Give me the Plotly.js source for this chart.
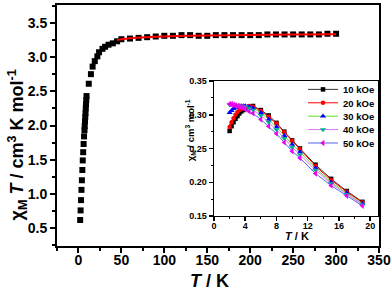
<!DOCTYPE html>
<html>
<head>
<meta charset="utf-8">
<script src="https://cdn.plot.ly/plotly-3.0.1.min.js"></script>
<style>html,body{margin:0;padding:0;background:#fff;}</style>
</head>
<body>
<div id="chart" style="width:392px;height:290px;"></div>
<script>
// Main plot: chi_M T vs T
var mainT = [2,2.5,3,3.5,4,4.5,5,5.5,6,6.5,7,7.3,7.6,7.9,8.2,8.5,8.8,9.1,9.4,12,14.5,16.5,19,22,24,28,31,35,40,45,50,
  60,70,80,90,100,110,120,130,140,150,160,170,180,190,200,210,220,230,240,250,260,270,280,290,300];
var mainChiT = [0.62,0.76,0.91,1.06,1.20,1.35,1.49,1.61,1.73,1.84,1.93,1.99,2.06,2.12,2.18,2.25,2.31,2.37,2.43,2.61,2.75,2.86,2.94,3.01,3.07,3.12,3.15,3.18,3.20,3.23,3.26,
  3.27,3.28,3.29,3.30,3.31,3.31,3.32,3.32,3.31,3.31,3.32,3.32,3.32,3.32,3.32,3.32,3.33,3.33,3.33,3.33,3.33,3.33,3.33,3.34,3.34];
var fitT = [45,50,60,80,100,125,150,200,250,300];
var fitChiT = [3.25,3.26,3.275,3.29,3.30,3.31,3.315,3.322,3.328,3.333];

// Inset: chi_M vs T at several fields
var insetT = [2,2.25,2.5,2.75,3,3.25,3.5,3.75,4,4.5,5,6,7,8,9,10,11,13,15,17,19];
var chi10 = [0.276,0.283,0.289,0.294,0.298,0.302,0.305,0.307,0.309,0.312,0.313,0.307,0.299,0.288,0.275,0.262,0.250,0.226,0.205,0.187,0.171];
var chi20 = [0.282,0.289,0.295,0.300,0.304,0.307,0.309,0.311,0.312,0.313,0.312,0.306,0.297,0.287,0.274,0.261,0.249,0.224,0.203,0.186,0.170];
var chi30 = [0.303,0.306,0.309,0.311,0.312,0.313,0.313,0.313,0.313,0.312,0.310,0.303,0.293,0.282,0.269,0.256,0.245,0.221,0.200,0.184,0.168];
var chi40 = [0.315,0.315,0.315,0.314,0.314,0.313,0.313,0.312,0.312,0.310,0.307,0.299,0.289,0.278,0.265,0.252,0.241,0.218,0.198,0.182,0.167];
var chi50 = [0.316,0.316,0.315,0.314,0.313,0.312,0.311,0.310,0.308,0.305,0.302,0.293,0.283,0.272,0.259,0.246,0.236,0.213,0.195,0.180,0.165];
var fieldLabels = ['10 kOe','20 kOe','30 kOe','40 kOe','50 kOe'];
var insetSeries = [chi10, chi20, chi30, chi40, chi50];
var lineColors = ['#333333','#ff0000','#66dd33','#dd77ee','#5566ee'];
var markerColors = ['#000000','#ff0000','#0000ff','#00b090','#ee00ee'];
var markerSymbols = ['square','circle','triangle-up','triangle-down','triangle-left'];

var FONT = 'Liberation Sans, Arial, sans-serif';
var B = 700;

var traces = [
  {x: mainT, y: mainChiT, type:'scatter', mode:'markers', xaxis:'x', yaxis:'y', showlegend:false,
   marker:{symbol:'square', size:6, color:'#000'}},
  {x: fitT, y: fitChiT, type:'scatter', mode:'lines', xaxis:'x', yaxis:'y', showlegend:false,
   line:{color:'#ff0000', width:2, shape:'spline'}}
];
for (var i=0;i<insetSeries.length;i++){
  traces.push({x: insetT, y: insetSeries[i], type:'scatter', mode:'lines+markers', xaxis:'x2', yaxis:'y2',
    name: fieldLabels[i],
    line:{color: lineColors[i], width:1},
    marker:{symbol: markerSymbols[i], size: (i<2?4.5:5.5), color: markerColors[i]}});
}

var axBase = {showgrid:false, zeroline:false, showline:true, linecolor:'#000', mirror:true,
  ticks:'outside', tickcolor:'#000'};

function ext(a,b){var o={};for(var k in a)o[k]=a[k];for(var k2 in b)o[k2]=b[k2];return o;}

var layout = {
  width:392, height:290,
  margin:{l:57, r:13, t:5, b:44, pad:0},
  paper_bgcolor:'#fff', plot_bgcolor:'#fff',
  font:{family:FONT, color:'#000', weight:B},
  xaxis: ext(axBase, {range:[-25,350], domain:[0,1], anchor:'y', tick0:0, dtick:50, ticklen:5, tickwidth:2, linewidth:2,
    ticklabelstandoff:-5,
    tickfont:{family:FONT, size:14, weight:B, color:'#000'},
    minor:{ticks:'outside', dtick:25, tick0:0, ticklen:3, tickwidth:2, tickcolor:'#000'}}),
  yaxis: ext(axBase, {range:[0.24,3.76], domain:[0,1], anchor:'x', tick0:0.5, dtick:0.5, tickformat:'.1f', ticklen:5, tickwidth:2, linewidth:2,
    tickfont:{family:FONT, size:14, weight:B, color:'#000'},
    minor:{ticks:'outside', dtick:0.25, tick0:0.5, ticklen:3, tickwidth:2, tickcolor:'#000'}}),
  xaxis2: ext(axBase, {range:[0,21], domain:[0.4876,0.9969], anchor:'y2', tick0:0, dtick:4, ticklen:4, tickwidth:1.5, linewidth:1.5,
    ticklabelstandoff:-3,
    tickfont:{family:FONT, size:9, weight:B, color:'#000'},
    minor:{ticks:'outside', dtick:2, tick0:0, ticklen:2, tickwidth:1, tickcolor:'#000'}}),
  yaxis2: ext(axBase, {range:[0.15,0.35], domain:[0.1245,0.6846], anchor:'x2', tick0:0.15, dtick:0.05, tickformat:'.2f', ticklen:4, tickwidth:1.5, linewidth:1.5,
    tickfont:{family:FONT, size:9, weight:B, color:'#000'},
    minor:{ticks:'outside', dtick:0.025, tick0:0.15, ticklen:2, tickwidth:1, tickcolor:'#000'}}),
  legend:{x:0.764, y:0.71, xanchor:'left', yanchor:'top', bgcolor:'rgba(0,0,0,0)', borderwidth:0,
    font:{family:FONT, size:9.5, weight:B, color:'#000'}, itemwidth:30, tracegroupgap:0},
  annotations:[
    {text:'χ<sub>M</sub> <i>T</i> / cm<sup>3</sup> K mol<sup>-1</sup>', xref:'paper', yref:'paper', x:-0.122, y:0.42,
     xanchor:'center', yanchor:'middle',
     textangle:-90, showarrow:false, font:{family:FONT, size:18, weight:B, color:'#000'}},
    {text:'<i>T</i> / K', xref:'paper', yref:'paper', x:0.475, y:-0.145, xanchor:'center', yanchor:'middle', showarrow:false,
     font:{family:FONT, size:18, weight:B, color:'#000'}},
    {text:'<i>T</i> / K', xref:'paper', yref:'paper', x:0.745, y:0.04, xanchor:'center', yanchor:'middle', showarrow:false,
     font:{family:FONT, size:11, weight:B, color:'#000'}},
    {text:'χ<sub>M</sub> / cm<sup>3</sup> mol<sup>-1</sup>', xref:'paper', yref:'paper', x:0.413, y:0.48,
     xanchor:'center', yanchor:'middle',
     textangle:-90, showarrow:false, font:{family:FONT, size:9.5, weight:B, color:'#000'}}
  ]
};

Plotly.newPlot('chart', traces, layout, {staticPlot:true, displayModeBar:false}).then(function(){
  var items = document.querySelectorAll('.legend .traces');
  var y0 = null;
  items.forEach(function(g, i){
    var t = g.getAttribute('transform') || '';
    var m = t.match(/translate\(\s*([-\d.]+)[ ,]+([-\d.]+)\s*\)/);
    if(!m) return;
    var x = parseFloat(m[1]), y = parseFloat(m[2]);
    if(y0 === null) y0 = y;
    g.setAttribute('transform', 'translate(' + x + ',' + (y0 + i*13.4) + ')');
  });
});
</script>
</body>
</html>
